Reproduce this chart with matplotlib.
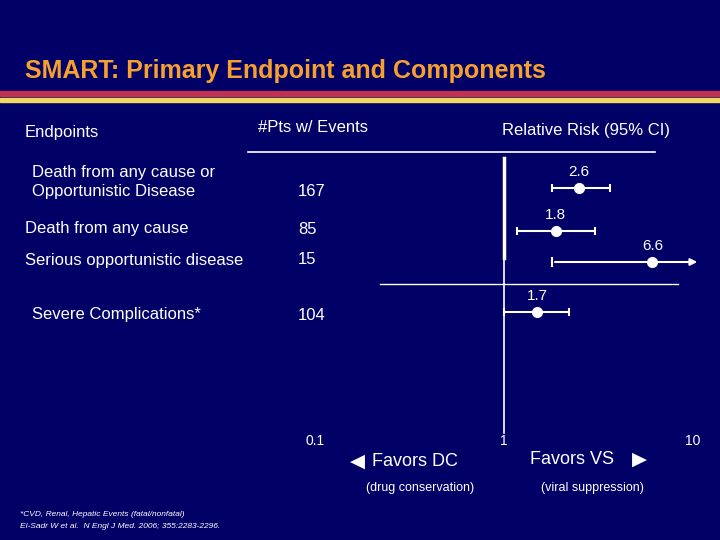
import matplotlib
matplotlib.use("Agg")
import matplotlib.pyplot as plt

bg = "#000066"
endpoints = ["Death from any cause or\nOpportunistic Disease", "Death from any cause",
             "Serious opportunistic disease", "Severe Complications*"]
events = ["167", "85", "15", "104"]
rr = [2.6, 1.8, 6.6, 1.7]
rr_pos = [2.5, 1.88, 6.1, 1.5]
ci_lo = [1.8, 1.17, 1.8, 1.0]
ci_hi = [3.64, 3.03, 10.9, 2.2]
row_y = [188, 231, 262, 312]
label_x = [32, 25, 25, 32]
label_y = [182, 229, 260, 315]
event_y = [192, 229, 260, 315]
ticks = [0.1, 1, 10]
tick_labels = ["0.1", "1", "10"]

fig = plt.figure(figsize=(7.2, 5.4), dpi=100, facecolor=bg)
W, H = 720, 540
ov = fig.add_axes([0, 0, 1, 1], facecolor=bg)
ov.set_xlim(0, W); ov.set_ylim(H, 0); ov.axis("off")
ff = ["Liberation Sans", "DejaVu Sans"]

ov.text(25, 71, "SMART: Primary Endpoint and Components", color="#F7A030",
        fontsize=18, fontweight="bold", va="center", family=ff)
ov.fill_between([0, W], 91, 96, color="#C03050")
ov.fill_between([0, W], 98, 102, color="#F0D860")

w = "white"
ov.text(25, 133, "Endpoints", color=w, fontsize=12, va="center", family=ff)
ov.text(258, 127, "#Pts w/ Events", color=w, fontsize=12, va="center", family=ff)
ov.text(502, 130, "Relative Risk (95% CI)", color=w, fontsize=12, va="center", family=ff)
ov.plot([248, 655], [152, 152], color=w, lw=1.2)
ov.plot([380, 678], [284, 284], color=w, lw=1)
for lx, ly, t in zip(label_x, label_y, endpoints):
    ov.text(lx, ly, t, color=w, fontsize=12, va="center", family=ff, linespacing=1.3)
for ey, t in zip(event_y, events):
    ov.text(298, ey, t, color=w, fontsize=12, va="center", family=ff)

ov.text(350, 461, "◀", color=w, fontsize=14, va="center", family=["DejaVu Sans"])
ov.text(372, 461, "Favors DC", color=w, fontsize=13, va="center", family=ff)
ov.text(420, 488, "(drug conservation)", color=w, fontsize=9, ha="center", va="center", family=ff)
ov.text(530, 460, "Favors VS", color=w, fontsize=13, va="center", family=ff)
ov.text(632, 459, "▶", color=w, fontsize=14, va="center", family=["DejaVu Sans"])
ov.text(592, 488, "(viral suppression)", color=w, fontsize=9, ha="center", va="center", family=ff)
ov.text(20, 514, "*CVD, Renal, Hepatic Events (fatal/nonfatal)", color=w, fontsize=6, style="italic", va="center", family=ff)
ov.text(20, 526, "El-Sadr W et al.  N Engl J Med. 2006; 355:2283-2296.", color=w, fontsize=6, style="italic", va="center", family=ff)

ax = fig.add_axes([315 / W, 0, (693 - 315) / W, 1], facecolor="none")
ax.set_xscale("log"); ax.set_xlim(0.1, 10); ax.set_ylim(H, 0); ax.axis("off")
ax.plot([1, 1], [158, 258], color=w, lw=2.5)
ax.plot([1, 1], [258, 433], color=w, lw=1.2)
for t, tl in zip(ticks, tick_labels):
    ax.text(t, 441, tl, color=w, fontsize=10, ha="center", va="center", family=ff)
for i in range(len(rr)):
    y = row_y[i]
    if i == 2:
        ax.annotate("", xy=(ci_hi[i], y), xytext=(ci_lo[i], y),
                    arrowprops=dict(arrowstyle="-|>", color=w, lw=1.5, mutation_scale=10),
                    annotation_clip=False)
        ax.plot([ci_lo[i]] * 2, [y - 4, y + 4], color=w, lw=1.5)
    else:
        ax.errorbar(rr_pos[i], y, xerr=[[rr_pos[i] - ci_lo[i]], [ci_hi[i] - rr_pos[i]]],
                    fmt="none", ecolor=w, elinewidth=1.5, capsize=3, capthick=1.5)
    ax.plot(rr_pos[i], y, "o", color=w, ms=7, clip_on=False)
    ax.text(rr_pos[i], y - 16, f"{rr[i]}", color=w, fontsize=11, ha="center", va="center", family=ff, clip_on=False)

fig.savefig("out.png", dpi=100, facecolor=bg)
